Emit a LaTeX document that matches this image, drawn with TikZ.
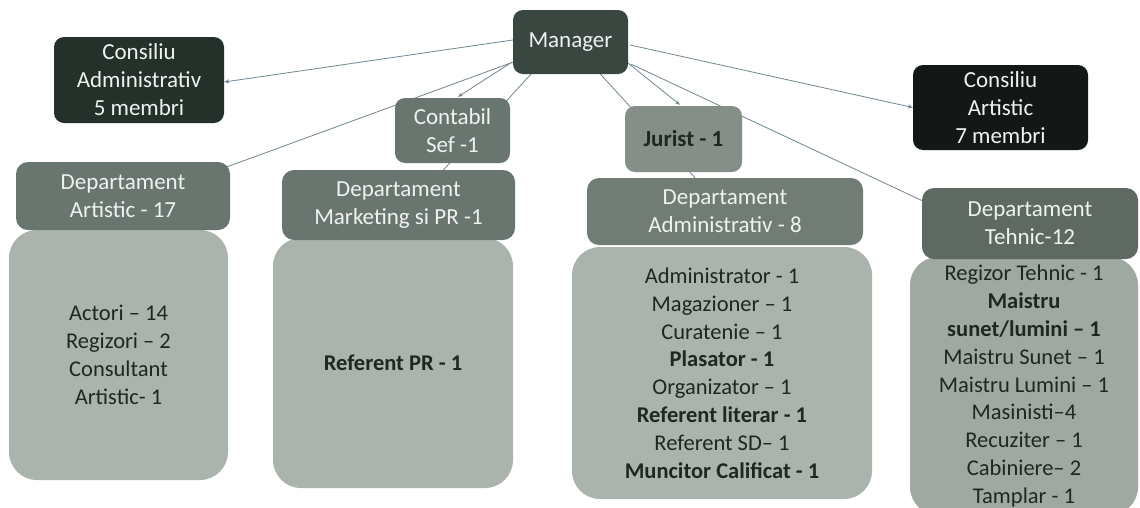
\documentclass[tikz,border=0pt]{standalone}
\usepackage{fontspec}
\setmainfont{Carlito}
\usetikzlibrary{calc,arrows.meta,backgrounds}
\definecolor{cdark}{HTML}{24312A}
\definecolor{cblack}{HTML}{131715}
\definecolor{cman}{HTML}{3A4741}
\definecolor{chead}{HTML}{69766F}
\definecolor{cheadB}{HTML}{717C75}
\definecolor{cheadT}{HTML}{5E6962}
\definecolor{cbody}{HTML}{AAB4AD}
\definecolor{cbodyT}{HTML}{9FA8A1}
\definecolor{cjur}{HTML}{858F88}
\definecolor{cline}{HTML}{708690}
\definecolor{ctext}{HTML}{1E2822}
\definecolor{cwhite}{HTML}{F0F2F0}
\tikzset{
  topbox/.style={rectangle, rounded corners=10pt, align=center, inner sep=0pt,
    text=cwhite, font=\fontsize{23}{28}\selectfont},
  headbox/.style={rectangle, rounded corners=12pt, align=center, inner sep=0pt,
    fill=chead, text=cwhite, font=\fontsize{23}{28}\selectfont},
  bodybox/.style={rectangle, rounded corners=28pt, align=center, inner sep=0pt,
    fill=cbody, text=ctext, font=\fontsize{22.5}{27.8}\selectfont},
  conn/.style={draw=cline, line width=0.8pt},
  arr/.style={conn, -{Stealth[length=5pt,width=4pt]}}
}
\begin{document}
\begin{tikzpicture}[x=1pt,y=-1pt]
\useasboundingbox (0,0) rectangle (1140,507);

% top level
\node[topbox, fill=cman, minimum width=115pt, minimum height=64pt] (man) at (570.5,42) {Manager};
\node[topbox, fill=cdark, minimum width=170pt, minimum height=86pt] (cadm) at (139,80) {Consiliu\\Administrativ\\5 membri};
\node[topbox, fill=cblack, minimum width=175pt, minimum height=85pt] (cart) at (1000.5,107.5) {Consiliu\\Artistic\\7 membri};
\node[topbox, fill=chead, minimum width=115pt, minimum height=65pt] (cont) at (452.5,130.5) {Contabil\\Sef -1};
\node[topbox, fill=cjur, text=ctext, font=\fontsize{23}{28}\selectfont\bfseries, minimum width=117pt, minimum height=66pt] (jur) at (683.5,139) {Jurist - 1};

% bodies
\node[bodybox, minimum width=219pt, minimum height=250pt] (bArt) at (118.5,355) {Actori – 14\\Regizori – 2\\Consultant\\Artistic- 1};
\node[bodybox, minimum width=240pt, minimum height=250pt] (bMkt) at (393,363) {\textbf{Referent PR - 1}};
\node[bodybox, minimum width=300pt, minimum height=252pt] (bAdm) at (722,373) {Administrator - 1\\Magazioner – 1\\Curatenie – 1\\\textbf{Plasator - 1}\\Organizator – 1\\\textbf{Referent literar - 1}\\Referent SD– 1\\\textbf{Muncitor Calificat - 1}};
\node[bodybox, fill=cbodyT, minimum width=228pt, minimum height=258pt] (bTeh) at (1024,386) {Regizor Tehnic - 1\\\textbf{Maistru}\\\textbf{sunet/lumini – 1}\\Maistru Sunet – 1\\Maistru Lumini – 1\\Masinisti–4\\Recuziter – 1\\Cabiniere– 2\\Tamplar - 1};

% department headers
\node[headbox, minimum width=214pt, minimum height=68pt] (hArt) at (123,196) {Departament\\Artistic - 17};
\node[headbox, minimum width=233pt, minimum height=70pt] (hMkt) at (398.5,205) {Departament\\Marketing si PR -1};
\node[headbox, fill=cheadB, minimum width=276pt, minimum height=67pt] (hAdm) at (725,211.5) {Departament\\Administrativ - 8};
\node[headbox, fill=cheadT, minimum width=216pt, minimum height=71pt] (hTeh) at (1030,223.5) {Departament\\Tehnic-12};

\begin{scope}[on background layer]
\fill[white] (0,0) rectangle (1140,507);
\draw[arr] ($(man.west)+(0,-2)$) -- ($(cadm.east)+(0,2)$);
\draw[arr] ($(man.east)+(2,3)$) -- (cart.west);
\draw[arr] ($(man.south west)+(-1,-12)$) -- ($(cont.north)+(5.5,-1)$);
\draw[conn] ($(man.south west)+(0,-12)$) -- ($(hArt.north east)+(-3,5)$);
\draw[conn] ($(man.south west)+(19,-1)$) -- ($(hMkt.north)+(45,0)$);
\draw[arr] ($(man.south east)+(0,-11)$) -- ($(jur.north)+(-3.5,-1)$);
\draw[conn] ($(man.south)+(30,0)$) -- ($(hAdm.north)+(-30,0)$);
\draw[conn] ($(man.south east)+(3,-10)$) -- ($(hTeh.west)+(0,-23)$);
\end{scope}
\end{tikzpicture}
\end{document}
